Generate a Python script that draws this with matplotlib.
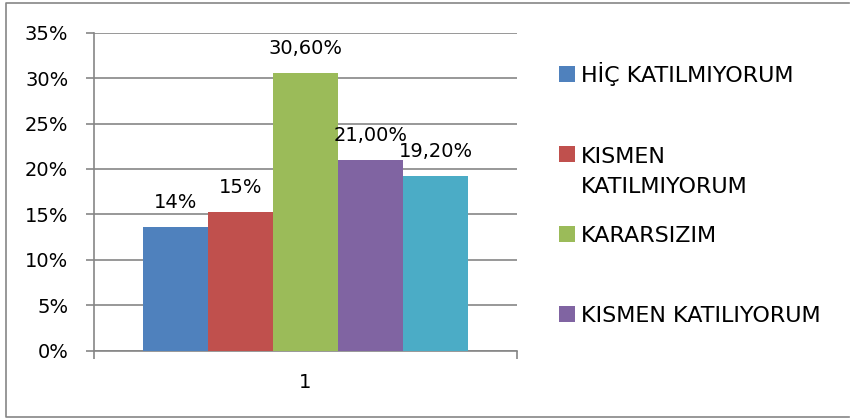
import matplotlib.pyplot as plt
from matplotlib.patches import Rectangle
from matplotlib.lines import Line2D

# Data
categories = ["HİÇ KATILMIYORUM", "KISMEN\nKATILMIYORUM", "KARARSIZIM",
              "KISMEN KATILIYORUM", "TAMAMEN KATILIYORUM"]
values = [0.136, 0.153, 0.306, 0.210, 0.192]
value_labels = ["14%", "15%", "30,60%", "21,00%", "19,20%"]
colors = ["#4F81BD", "#C0504D", "#9BBB59", "#8064A2", "#4BACC6"]
y_ticks = [0, 0.05, 0.10, 0.15, 0.20, 0.25, 0.30, 0.35]
y_tick_labels = ["0%", "5%", "10%", "15%", "20%", "25%", "30%", "35%"]
x_label = "1"

plt.rcParams['font.family'] = ['DejaVu Sans']
grid_col = "#868686"
fs = 14
legend_fs = 16

fig = plt.figure(figsize=(8.5, 4.19), dpi=100)
W, H = 850, 419

# outer chart border (right side falls outside the picture)
bx = [W - 1, 6, 6, W - 1]
by = [3, 3, 416.5, 416.5]
fig.lines.append(Line2D([x / W for x in bx], [1 - y / H for y in by],
                        transform=fig.transFigure, color=grid_col,
                        linewidth=1.2))

ax = fig.add_axes([94 / W, 1 - 350.7 / H, 423 / W, 318 / H])
bw = 65 / 423
n = len(values)
for i in range(n):
    x = (i - (n - 1) / 2) * bw
    ax.bar(x, values[i], width=bw, color=colors[i], zorder=3)
    ax.annotate(value_labels[i], (x, values[i]), xytext=(0, 19),
                textcoords="offset pixels", ha="center", va="baseline",
                fontsize=fs, zorder=4)

ax.set_xlim(-0.5, 0.5)
ax.set_ylim(0, 0.35)
ax.set_yticks(y_ticks)
ax.set_yticklabels(y_tick_labels, fontsize=fs)
ax.yaxis.grid(True, color=grid_col, linewidth=1.2, zorder=0)
ax.tick_params(axis="y", length=6, width=1.2, color=grid_col, pad=12.5)
ax.set_xticks([-0.5, 0.5])
ax.set_xticklabels(["", ""])
ax.tick_params(axis="x", length=6, width=1.2, color=grid_col)
ax.text(0, -0.035, x_label, ha="center", va="center", fontsize=fs)
for s in ["top", "right"]:
    ax.spines[s].set_visible(False)
for s in ["left", "bottom"]:
    ax.spines[s].set_color(grid_col)
    ax.spines[s].set_linewidth(1.2)

# legend (only the first four entries fit in the box)
legend_base = [82, 162, 242, 322]
line_gap = 31
for i, yb in enumerate(legend_base):
    fig.patches.append(Rectangle((559 / W, 1 - yb / H), 16 / W, 16 / H,
                                 transform=fig.transFigure,
                                 facecolor=colors[i], edgecolor="none"))
    # baseline alignment uses the last line of a wrapped label
    extra = categories[i].count("\n") * line_gap
    fig.text(581 / W, 1 - (yb + extra) / H, categories[i], ha="left",
             va="baseline", fontsize=legend_fs, linespacing=1.6)

fig.savefig("out.png", dpi=100)
